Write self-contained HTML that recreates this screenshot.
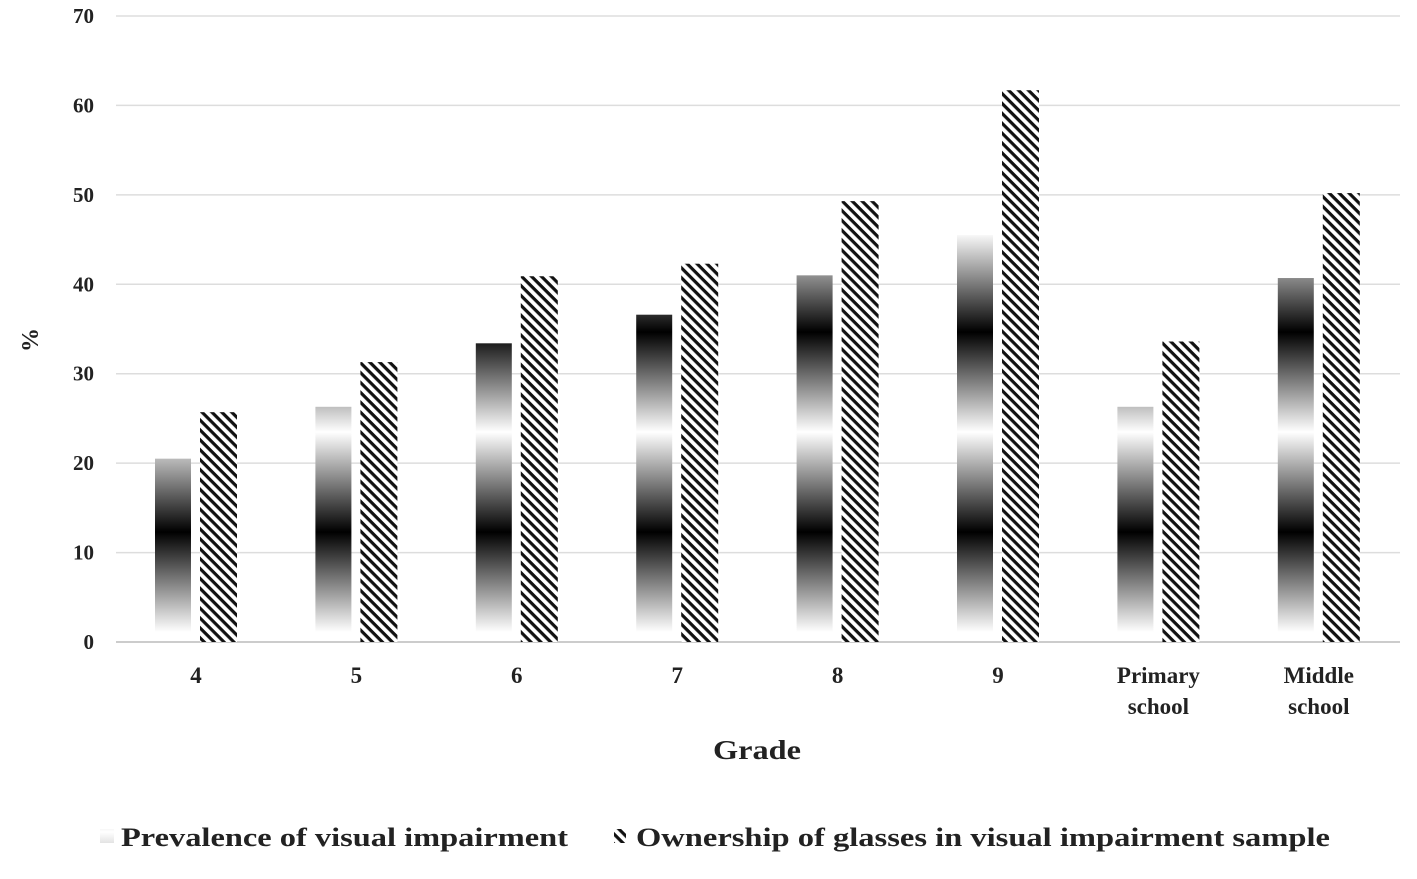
<!DOCTYPE html>
<html><head><meta charset="utf-8"><style>
body{margin:0;background:#fff;}
svg text{font-family:"Liberation Serif",serif;font-weight:bold;fill:#222;}
</style></head><body>
<svg width="1417" height="874">
<defs>
<linearGradient id="g" x1="0" y1="0" x2="0" y2="1">
<stop offset="0" stop-color="#fff"/><stop offset="0.5" stop-color="#000"/><stop offset="1" stop-color="#fff"/>
</linearGradient>
<pattern id="grad" patternUnits="userSpaceOnUse" x="0" y="32" width="10" height="200">
<rect width="10" height="200" fill="url(#g)"/>
</pattern>
<pattern id="hatch" patternUnits="userSpaceOnUse" width="7" height="7" patternTransform="rotate(45)">
<rect width="7" height="7" fill="#fff"/><rect width="7" height="3.2" fill="#111"/>
</pattern>
</defs>
<g id="grid"></g><g id="bars"></g><g id="labels"></g>
<text x="38" y="340" font-size="24" transform="rotate(-90 38 340)" text-anchor="middle">%</text>
<text x="757" y="759" font-size="27" text-anchor="middle" textLength="88" lengthAdjust="spacingAndGlyphs">Grade</text>
<g>
<rect x="100" y="829" width="14" height="14" fill="url(#grad)"/>
<text x="121" y="846" font-size="26" textLength="447" lengthAdjust="spacingAndGlyphs">Prevalence of visual impairment</text>
<rect x="614" y="829" width="12" height="14" fill="url(#hatch)"/>
<text x="636" y="846" font-size="26" textLength="694" lengthAdjust="spacingAndGlyphs">Ownership of glasses in visual impairment sample</text>
</g>
</svg>
<script>
const categories=[["4"],["5"],["6"],["7"],["8"],["9"],["Primary","school"],["Middle","school"]];
const prevalence=[20.5,26.3,33.4,36.6,41.0,45.5,26.3,40.7];
const ownership=[25.7,31.3,40.9,42.3,49.3,61.7,33.6,50.2];
const yTicks=[0,10,20,30,40,50,60,70];
const NS="http://www.w3.org/2000/svg";
const y=v=>642-v*(626/70);
const cx=i=>196+i*160.4;
function mk(t,a,p){const e=document.createElementNS(NS,t);for(const k in a)e.setAttribute(k,a[k]);document.getElementById(p).appendChild(e);return e;}
yTicks.forEach(t=>{
 const l=mk('line',{x1:116,x2:1400,y1:y(t),y2:y(t),stroke:t===0?'#bbb':'#ddd','stroke-width':1.5},'grid');
 
 
 const tx=mk('text',{x:94,y:y(t)+7,'font-size':21,'text-anchor':'end'},'labels');
 tx.textContent=t;
 
 
});
categories.forEach((c,i)=>{
 const b1=mk('rect',{x:cx(i)-41,y:y(prevalence[i]),width:36,height:y(0)-y(prevalence[i])-10,fill:'url(#grad)'},'bars');
 
 
 const b2=mk('rect',{x:cx(i)+4,y:y(ownership[i]),width:37,height:y(0)-y(ownership[i]),fill:'url(#hatch)'},'bars');
 
 
 c.forEach((s,j)=>{
  const t=mk('text',{x:cx(i),y:683+j*31,'font-size':23,'text-anchor':'middle'},'labels');
  t.textContent=s;
  
  
 });
});
</script>
</body></html>
